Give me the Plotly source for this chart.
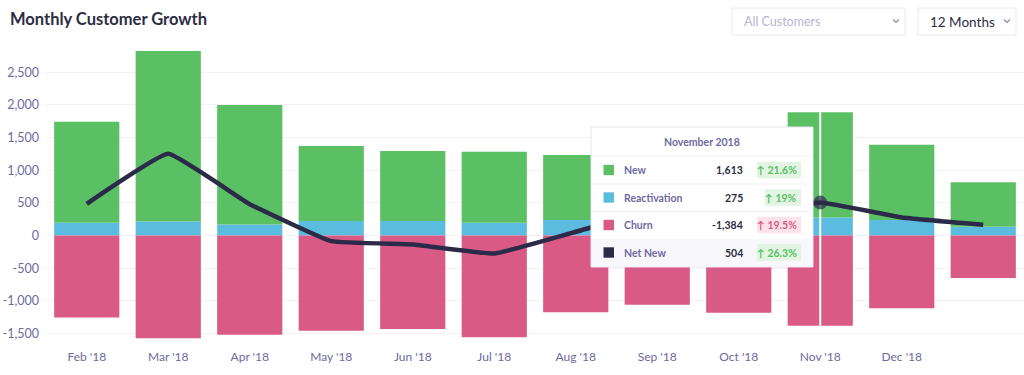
import plotly.graph_objects as go

# ---------------- data ----------------
months = ["Feb '18", "Mar '18", "Apr '18", "May '18", "Jun '18", "Jul '18",
          "Aug '18", "Sep '18", "Oct '18", "Nov '18", "Dec '18", "Jan '19"]
tick_labels = ["Feb '18", "Mar '18", "Apr '18", "May '18", "Jun '18", "Jul '18",
               "Aug '18", "Sep '18", "Oct '18", "Nov '18", "Dec '18", ""]
reactivation = [196, 215, 170, 222, 222, 196, 237, 230, 235, 275, 237, 135]
new = [1548, 2613, 1830, 1150, 1073, 1088, 997, 1220, 1245, 1613, 1155, 680]
churn = [-1258, -1576, -1520, -1459, -1433, -1560, -1177, -1060, -1183, -1384, -1116, -651]
net_new = [n + r + c for n, r, c in zip(new, reactivation, churn)]
y_ticks = [-1500, -1000, -500, 0, 500, 1000, 1500, 2000, 2500]
y_tick_text = [f"{v:,}" for v in y_ticks]

tooltip_title = "November 2018"
tooltip_rows = ["New", "Reactivation", "Churn", "Net New"]
tooltip_values = ["1,613", "275", "-1,384", "504"]
tooltip_changes = ["21.6%", "19%", "19.5%", "26.3%"]

# ---------------- style ----------------
GREEN = "#5BC064"
BLUE = "#5CBCDF"
PINK = "#D95B85"
NAVY = "#2B2A48"
LABEL = "#6E6AA0"
DARK = "#2D2D44"
FONT = "Lato"

W, H = 1024, 375
ML, MR, MT, MB = 46, 0, 43, 30
PW, PH = W - ML - MR, H - MT - MB


def px(x):
    return (x - ML) / PW


def py(y):
    return (H - MB - y) / PH


hover_idx = months.index("Nov '18")

fig = go.Figure()
fig.add_trace(go.Bar(x=months, y=reactivation, marker=dict(color=BLUE, line=dict(width=0)), name="Reactivation"))
fig.add_trace(go.Bar(x=months, y=new, marker=dict(color=GREEN, line=dict(width=0)), name="New"))
fig.add_trace(go.Bar(x=months, y=churn, marker=dict(color=PINK, line=dict(width=0)), name="Churn"))

# hover crosshair through the hovered month
top_val = new[hover_idx] + reactivation[hover_idx]
fig.add_trace(go.Scatter(x=[months[hover_idx], months[hover_idx]],
                         y=[churn[hover_idx], top_val],
                         mode="lines", line=dict(color="white", width=2), showlegend=False))

sizes = [0] * len(months)
sizes[hover_idx] = 14
fig.add_trace(go.Scatter(x=months, y=net_new, mode="lines+markers", name="Net New",
                         line=dict(color=NAVY, width=4.5, shape="spline", smoothing=0.3),
                         marker=dict(size=sizes, color=NAVY, line=dict(width=0))))

shapes = []
annotations = []

# title
annotations.append(dict(text="<b>Monthly Customer Growth</b>", x=px(8), y=py(19), xref="paper", yref="paper",
                        xanchor="left", yanchor="middle", showarrow=False,
                        font=dict(family=FONT, size=16.5, color=DARK)))

# dropdowns
for (x0, x1, txt, col, size, chev) in [(732, 905, "All Customers", "#B4B4D8", 12.5, 896),
                                        (918, 1016, "12 Months", DARK, 13.5, 1007)]:
    shapes.append(dict(type="rect", xref="paper", yref="paper", x0=px(x0), x1=px(x1), y0=py(35), y1=py(8),
                       line=dict(color="#E8E8F6", width=1), fillcolor="white"))
    annotations.append(dict(text=txt, x=px(x0 + 10), y=py(21.5), xref="paper", yref="paper",
                            xanchor="left", yanchor="middle", showarrow=False,
                            font=dict(family=FONT, size=size, color=col)))
    shapes.append(dict(type="path", xref="paper", yref="paper",
                       path=f"M {px(chev-3)},{py(19.5)} L {px(chev)},{py(22.5)} L {px(chev+3)},{py(19.5)}",
                       line=dict(color="#8A8AA8", width=1.2)))

# tooltip box
tx0, tx1, ty0, ty1 = 591, 813, 127, 267
shapes.append(dict(type="rect", xref="paper", yref="paper", x0=px(tx0), x1=px(tx1), y0=py(ty1), y1=py(ty0),
                   line=dict(color="#E4E4EE", width=1), fillcolor="white", layer="above"))
shapes.append(dict(type="rect", xref="paper", yref="paper", x0=px(tx0 + 1), x1=px(tx1 - 1), y0=py(ty1 - 1), y1=py(239),
                   line=dict(width=0), fillcolor="#F8F8FC", layer="above"))
for sy in [156, 184, 211.5]:
    shapes.append(dict(type="line", xref="paper", yref="paper", x0=px(tx0 + 1), x1=px(tx1 - 1), y0=py(sy), y1=py(sy),
                       line=dict(color="#F1F1F6", width=1), layer="above"))
annotations.append(dict(text=f"<b>{tooltip_title}</b>", x=px(702), y=py(141.5), xref="paper", yref="paper",
                        xanchor="center", yanchor="middle", showarrow=False,
                        font=dict(family=FONT, size=10.5, color=LABEL)))

row_y = [170, 197.5, 225, 252.5]
sq_colors = [GREEN, BLUE, PINK, NAVY]
badge_left = [757, 765, 757, 757]
badge_bg = ["#E2F5E3", "#E2F5E3", "#FCE3EB", "#E2F5E3"]
badge_fg = [GREEN, GREEN, PINK, GREEN]
for i, ry in enumerate(row_y):
    shapes.append(dict(type="rect", xref="paper", yref="paper", x0=px(603.5), x1=px(614), y0=py(ry + 5.2), y1=py(ry - 5.2),
                       line=dict(width=0), fillcolor=sq_colors[i], layer="above"))
    annotations.append(dict(text=f"<b>{tooltip_rows[i]}</b>", x=px(622), y=py(ry), xref="paper", yref="paper",
                            xanchor="left", yanchor="middle", showarrow=False,
                            font=dict(family=FONT, size=10.5, color=LABEL)))
    annotations.append(dict(text=f"<b>{tooltip_values[i]}</b>", x=px(744.5), y=py(ry), xref="paper", yref="paper",
                            xanchor="right", yanchor="middle", showarrow=False,
                            font=dict(family=FONT, size=10.5, color=DARK)))
    shapes.append(dict(type="rect", xref="paper", yref="paper", x0=px(badge_left[i]), x1=px(801),
                       y0=py(ry + 8.2), y1=py(ry - 8.2),
                       line=dict(width=0), fillcolor=badge_bg[i], layer="above"))
    annotations.append(dict(text=f"<b>↑ {tooltip_changes[i]}</b>", x=px(799), y=py(ry), xref="paper", yref="paper",
                            xanchor="right", yanchor="middle", showarrow=False,
                            font=dict(family=FONT, size=10.5, color=badge_fg[i])))

fig.update_layout(
    width=W, height=H,
    margin=dict(l=ML, r=MR, t=MT, b=MB, pad=0),
    barmode="relative", bargap=0.2,
    plot_bgcolor="white", paper_bgcolor="white",
    showlegend=False, hovermode=False,
    font=dict(family=FONT, color=LABEL),
    shapes=shapes, annotations=annotations,
    xaxis=dict(type="category", range=[-0.5, 11.5], tickvals=months, ticktext=tick_labels,
               showgrid=False, zeroline=False, showline=False, ticks="", ticklabelstandoff=3,
               tickfont=dict(family=FONT, size=12, color=LABEL)),
    yaxis=dict(range=[-1678, 2950], tickvals=y_ticks, ticktext=y_tick_text,
               showgrid=True, gridcolor="#F1F1F6", gridwidth=1, zeroline=False, showline=False,
               ticks="", ticklabelstandoff=6,
               tickfont=dict(family=FONT, size=12.5, color=LABEL)),
)

fig.write_html("out.html", config={"displayModeBar": False},
               post_script="document.body.style.margin='0';document.body.style.padding='0';")
